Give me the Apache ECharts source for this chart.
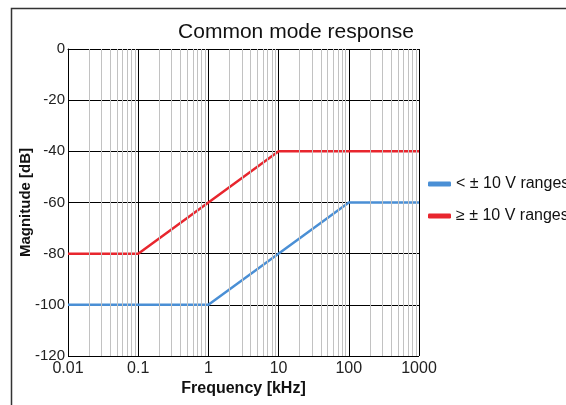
<!DOCTYPE html>
<html>
<head>
<meta charset="utf-8">
<script src="https://cdn.jsdelivr.net/npm/echarts@6/dist/echarts.min.js"></script>
<style>
html, body { margin: 0; padding: 0; background: #fff; }
#chart { width: 566px; height: 405px; }
</style>
</head>
<body>
<div id="chart"></div>
<script>
var seriesNames = ['< ± 10 V ranges', '≥ ± 10 V ranges'];
var lowFreq = [0.01, 1, 100, 1000];
var lowMag = [-100, -100, -60, -60];
var highFreq = [0.01, 0.1, 10, 1000];
var highMag = [-80, -80, -40, -40];
var minorTicks = [];
var decades = [0.01, 0.1, 1, 10, 100];
decades.forEach(function (d) {
    [2, 3, 4, 5, 6, 7, 8, 9].forEach(function (m) {
        minorTicks.push(+(d * m).toPrecision(3));
    });
});

function pairs(xs, ys) {
    return xs.map(function (x, i) { return [x, ys[i]]; });
}

var myChart = echarts.init(document.getElementById('chart'));
var option = {
    animation: false,
    textStyle: { fontFamily: 'Liberation Sans, Arial, sans-serif' },
    graphic: [{
        type: 'rect',
        left: 9,
        top: 6,
        shape: { width: 570, height: 420 },
        style: { fill: 'none', stroke: '#333', lineWidth: 1.5 },
        silent: true
    }],
    title: {
        text: 'Common mode response',
        left: 291,
        textAlign: 'center',
        top: 17,
        textStyle: { fontSize: 21, fontWeight: 'normal', color: '#111' }
    },
    legend: {
        data: seriesNames,
        orient: 'vertical',
        left: 423,
        top: 171,
        itemWidth: 23,
        itemHeight: 5,
        itemGap: 16,
        icon: 'roundRect',
        textStyle: { fontSize: 16, color: '#111' }
    },
    grid: { left: 68, right: 147, top: 49, bottom: 49 },
    xAxis: {
        type: 'log',
        logBase: 10,
        min: 0.01,
        max: 1000,
        name: 'Frequency [kHz]',
        nameLocation: 'middle',
        nameGap: 25,
        nameMoveOverlap: false,
        nameTextStyle: { fontSize: 16, fontWeight: 'bold', color: '#111' },
        axisLine: { lineStyle: { color: '#000', width: 1 } },
        axisTick: { show: false },
        axisLabel: {
            fontSize: 16, color: '#222', margin: 5,
            formatter: function (v) { return String(+(+v).toPrecision(6)); }
        },
        splitLine: { show: true, lineStyle: { color: '#000', width: 1 } }
    },
    yAxis: {
        type: 'value',
        min: -120,
        max: 0,
        interval: 20,
        name: 'Magnitude [dB]',
        nameLocation: 'middle',
        nameGap: 35,
        nameMoveOverlap: false,
        nameTextStyle: { fontSize: 15, fontWeight: 'bold', color: '#111' },
        axisLine: { show: true, lineStyle: { color: '#000', width: 1 } },
        axisTick: { show: false },
        axisLabel: { fontSize: 15, color: '#222', margin: 3 },
        splitLine: { show: true, lineStyle: { color: '#000', width: 1 } }
    },
    series: [{
        name: 'minor',
        type: 'line',
        data: [],
        silent: true,
        z: 1,
        markLine: {
            silent: true,
            symbol: 'none',
            label: { show: false },
            lineStyle: { color: '#c2c2c2', width: 1, type: 'solid' },
            data: minorTicks.map(function (v) { return { xAxis: v }; })
        }
    }, {
        name: seriesNames[0],
        type: 'line',
        data: pairs(lowFreq, lowMag),
        symbol: 'none',
        z: 3,
        lineStyle: { color: '#4a8fd5', width: 2.5 },
        itemStyle: { color: '#4a8fd5' }
    }, {
        name: seriesNames[1],
        type: 'line',
        data: pairs(highFreq, highMag),
        symbol: 'none',
        z: 3,
        lineStyle: { color: '#e8262e', width: 2.5 },
        itemStyle: { color: '#e8262e' }
    }]
};
myChart.setOption(option);
</script>
</body>
</html>
